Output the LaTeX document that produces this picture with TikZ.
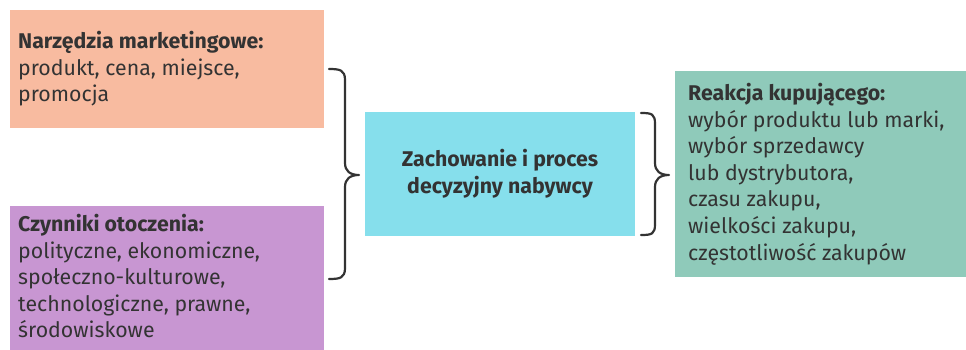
\documentclass[tikz,border=0pt]{standalone}
\usepackage{fontspec}
\setmainfont{Fira Sans}
\begin{document}
\begin{tikzpicture}[x=1pt,y=-1pt,
  txt/.style={anchor=north west, align=left, inner sep=0pt, text=textc, font=\fontsize{21.3}{26.6}\selectfont},
  brace/.style={draw=bracec, line width=2.2pt, line cap=round, line join=round}]
\definecolor{orangec}{HTML}{F8BBA0}
\definecolor{purplec}{HTML}{C896D2}
\definecolor{cyanc}{HTML}{86DFEC}
\definecolor{greenc}{HTML}{8FCABA}
\definecolor{textc}{HTML}{333333}
\definecolor{bracec}{HTML}{333333}
\useasboundingbox (0,0) rectangle (966,350);
\fill[orangec] (10,10) rectangle (324,128);
\fill[purplec] (10,206) rectangle (324,350);
\fill[cyanc] (365,112) rectangle (635,236);
\fill[greenc] (675,71) rectangle (966,277);
\node[txt] (t1) at (18,31) {\textbf{Narzędzia marketingowe:}\\produkt, cena, miejsce,\\promocja};
\node[txt] (t2) at (18,214) {\textbf{Czynniki otoczenia:}\\polityczne, ekonomiczne,\\społeczno-kulturowe,\\technologiczne, prawne,\\środowiskowe};
\node[txt] (t3) at (688,83) {\textbf{Reakcja kupującego:}\\wybór produktu lub marki,\\wybór sprzedawcy\\lub dystrybutora,\\czasu zakupu,\\wielkości zakupu,\\częstotliwość zakupów};
\node[align=center, inner sep=0pt, text=textc, font=\fontsize{21.3}{26.6}\selectfont\bfseries] (t4) at (500,174) {Zachowanie i proces\\decyzyjny nabywcy};
\draw[brace] (329,69) .. controls (340,69) and (345,70) .. (345,80) -- (345,163) .. controls (345,171) and (350,175) .. (359,175)
  .. controls (350,175) and (345,179) .. (345,187) -- (345,268) .. controls (345,278) and (340,279) .. (329,279);
\draw[brace] (641,113) .. controls (652,113) and (655,114) .. (655,124) -- (655,163) .. controls (655,171) and (660,175) .. (669,175)
  .. controls (660,175) and (655,179) .. (655,187) -- (655,224) .. controls (655,234) and (652,235) .. (641,235);
\end{tikzpicture}
\end{document}
